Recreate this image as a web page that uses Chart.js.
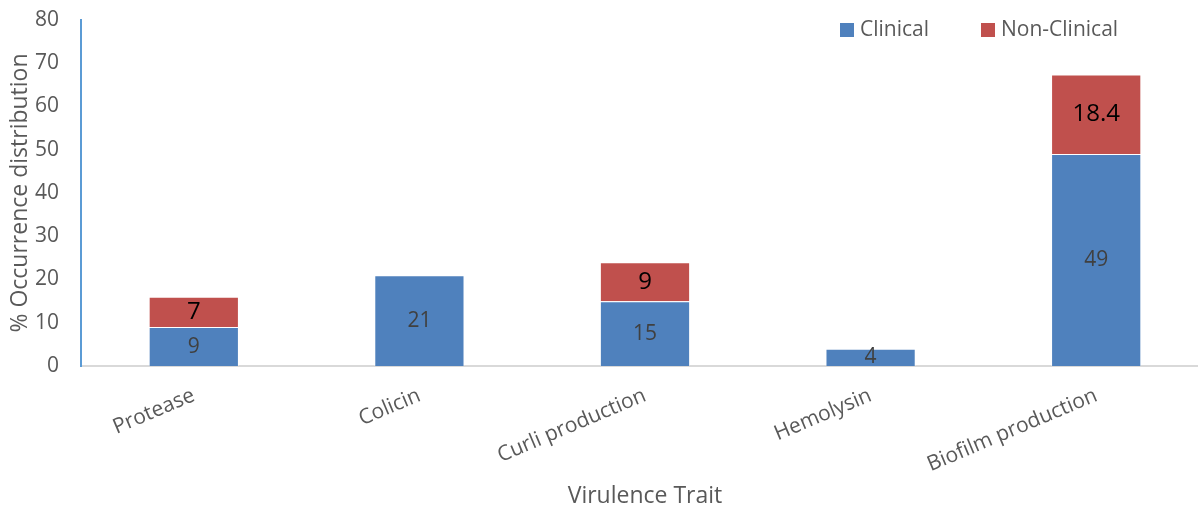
<!DOCTYPE html>
<html>
<head>
<meta charset="utf-8">
<script src="https://cdn.jsdelivr.net/npm/chart.js@4/dist/chart.umd.min.js"></script>
<style>
  html, body { margin: 0; padding: 0; background: #ffffff; overflow: hidden; }
  #wrap { width: 1209px; height: 510px; }
</style>
</head>
<body>
<div id="wrap"><canvas id="c" width="1209" height="510"></canvas></div>
<script>
// Virulence traits and their occurrence (%) per isolate source
const categories = ['Protease', 'Colicin', 'Curli production', 'Hemolysin', 'Biofilm production'];
const clinical = [9, 21, 15, 4, 49];
const nonClinical = [7, null, 9, null, 18.4];
const seriesNames = ['Clinical', 'Non-Clinical'];
const seriesColors = ['#4f81bd', '#c0504d'];
const yTicks = [0, 10, 20, 30, 40, 50, 60, 70, 80];

const FONT = "'Open Sans', 'DejaVu Sans', sans-serif";
const GREY = '#595959';

// Value labels centred inside each bar segment
const segmentLabels = {
  id: 'segmentLabels',
  afterDatasetsDraw(chart) {
    const ctx = chart.ctx;
    ctx.save();
    ctx.textAlign = 'center';
    ctx.textBaseline = 'middle';
    chart.data.datasets.forEach((ds, di) => {
      const meta = chart.getDatasetMeta(di);
      ctx.fillStyle = di === 0 ? '#404040' : '#000000';
      ctx.font = (di === 0 ? '21px ' : '24px ') + FONT;
      meta.data.forEach((bar, i) => {
        const v = ds.data[i];
        if (v === null || v === undefined) return;
        ctx.fillText(String(v), bar.x, (bar.y + bar.base) / 2);
      });
    });
    ctx.restore();
  }
};

// Legend drawn inside the top-right of the plot area
const insideLegend = {
  id: 'insideLegend',
  afterDraw(chart) {
    const ctx = chart.ctx;
    const xs = [840, 981];
    ctx.save();
    ctx.font = '21px ' + FONT;
    ctx.textBaseline = 'middle';
    ctx.textAlign = 'left';
    chart.data.datasets.forEach((ds, di) => {
      ctx.fillStyle = ds.backgroundColor;
      ctx.fillRect(xs[di], 23, 14, 14);
      ctx.fillStyle = GREY;
      ctx.fillText(ds.label, xs[di] + 20, 30);
    });
    ctx.restore();
  }
};

new Chart(document.getElementById('c'), {
  type: 'bar',
  data: {
    labels: categories,
    datasets: [
      { label: seriesNames[0], data: clinical, backgroundColor: seriesColors[0],
        borderColor: 'rgba(255,255,255,0.45)', borderWidth: 1 },
      { label: seriesNames[1], data: nonClinical, backgroundColor: seriesColors[1],
        borderColor: 'rgba(255,255,255,0.45)', borderWidth: 1 }
    ]
  },
  options: {
    responsive: false,
    animation: false,
    layout: { padding: { top: 20, right: 0, bottom: 0, left: 0 } },
    datasets: { bar: { barPercentage: 0.4, categoryPercentage: 1.0 } },
    plugins: { legend: { display: false }, tooltip: { enabled: false } },
    scales: {
      x: {
        stacked: true,
        grid: { display: false, drawTicks: false },
        border: { display: true, color: '#d9d9d9', width: 2 },
        ticks: { color: GREY, font: { family: FONT, size: 21 }, minRotation: 23, maxRotation: 23, padding: 17, autoSkip: false },
        title: { display: true, text: 'Virulence Trait', color: GREY, font: { family: FONT, size: 23 }, padding: { top: 0, bottom: 0 } },
        afterFit(scale) { scale.height = 144; scale.paddingTop = 0; }
      },
      y: {
        stacked: true,
        min: 0,
        max: 80,
        afterBuildTicks(scale) { scale.ticks = yTicks.map(v => ({ value: v })); },
        grid: { display: false, drawTicks: false },
        border: { display: true, color: '#5b9bd5', width: 2 },
        ticks: { color: GREY, font: { family: FONT, size: 21 }, padding: 22 },
        title: { display: true, text: '% Occurrence distribution', color: GREY, font: { family: FONT, size: 23 }, padding: { top: 7, bottom: 8 } },
        afterFit(scale) { scale.width = 81; scale.paddingTop = 0; scale.paddingBottom = 0; }
      }
    }
  },
  plugins: [segmentLabels, insideLegend]
});
</script>
</body>
</html>
